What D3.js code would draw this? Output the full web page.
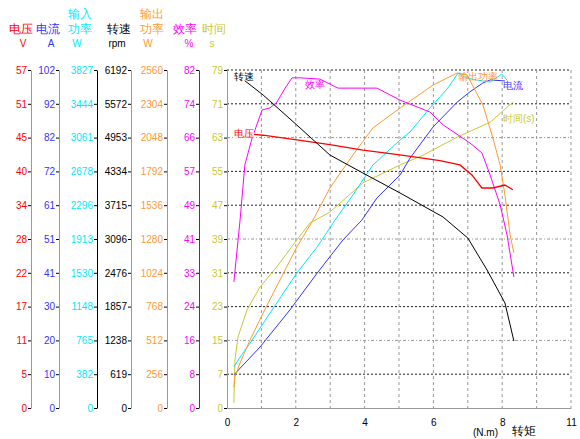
<!DOCTYPE html>
<html>
<head>
<meta charset="utf-8">
<script src="https://cdn.jsdelivr.net/npm/d3@7"></script>
<style>
  body { margin: 0; background: #fff; }
  text { font-family: "Liberation Sans", Arial, sans-serif; }
</style>
</head>
<body>
<svg id="chart" width="580" height="439"></svg>
<script>
// tick labels of the seven left axes (bottom to top)
const voltTicks   = ["0","5","11","17","22","28","34","40","45","51","57"];
const ampTicks    = ["0","10","20","30","41","51","61","72","82","92","102"];
const pinTicks    = ["0","382","765","1148","1530","1913","2296","2678","3061","3444","3827"];
const rpmTicks    = ["0","619","1238","1857","2476","3096","3715","4334","4953","5572","6192"];
const poutTicks   = ["0","256","512","768","1024","1280","1536","1792","2048","2304","2560"];
const effTicks    = ["0","8","16","24","33","41","49","57","66","74","82"];
const timeTicks   = ["0","7","15","23","31","39","47","55","63","71","79"];

const xTickValues = [0, 2, 4, 6, 8, 10];
const xTickLabels = ["0", "2", "4", "6", "8", "11"];

// curves: [torque (N.m), value]
const speedData = [[0.23,6137],[1.05,5734],[2.03,5184],[2.99,4635],[3.95,4305],[5.03,3939],
                   [6.28,3499],[7.0,3114],[7.56,2528],[8.08,1924],[8.34,1227]];
const voltData  = [[0.26,46.4],[1.05,46.0],[2.03,45.2],[2.99,44.4],[3.95,43.5],[5.03,42.7],
                   [6.19,41.7],[6.77,41.0],[7.12,39.3],[7.41,37.1],[7.73,37.1],[8.08,37.6],[8.31,36.8]];
const effData   = [[0.20,30.6],[0.38,45.6],[0.52,59.0],[0.73,65.5],[1.02,72.3],[1.25,72.8],
                   [1.45,74.2],[1.69,77.6],[1.89,80.1],[2.12,80.1],[2.70,79.8],[3.23,77.6],
                   [4.36,77.6],[5.03,74.7],[5.90,71.8],[6.28,68.7],[7.06,64.3],[7.41,61.9],
                   [7.65,56.5],[7.94,49.3],[8.14,42.0],[8.34,31.8]];
const poutData  = [[0.20,159],[0.23,235],[0.38,341],[0.67,515],[1.05,720],[1.54,969],[2.03,1219],
                   [2.50,1424],[2.99,1666],[3.66,1916],[4.24,2121],[5.03,2272],[5.99,2446],
                   [6.69,2537],[6.98,2522],[7.44,2295],[7.73,2045],[7.94,1840],[8.08,1613],
                   [8.23,1310],[8.34,1174]];
const pinData   = [[0.20,464],[0.38,577],[0.67,735],[1.25,1075],[2.03,1528],[2.62,1823],
                   [3.14,2128],[3.66,2412],[4.24,2751],[5.03,3034],[5.32,3125],[5.90,3397],
                   [6.42,3623],[6.72,3793],[6.98,3736],[7.27,3713],[7.65,3691],[7.99,3781],[8.14,3713]];
const ampData   = [[0.20,10.0],[0.96,18.4],[1.83,29.6],[2.62,40.7],[3.37,50.7],[3.92,56.7],
                   [4.36,63.4],[5.03,70.3],[5.32,75.4],[5.99,84.8],[6.69,92.3],[7.06,95.4],
                   [7.44,98.1],[7.65,99.0],[8.08,98.7]];
const timeData  = [[0.20,1.2],[0.21,4.9],[0.23,11.2],[0.32,16.6],[0.58,22.9],[0.96,28.3],
                   [1.45,33.0],[2.03,39.3],[2.41,43.2],[2.99,45.8],[3.95,52.6],[5.03,56.8],
                   [5.70,59.1],[6.69,63.3],[7.65,66.8],[8.31,71.5]];

const svg = d3.select("#chart");
const plotTop = 70, plotBottom = 408;

const x = d3.scaleLinear().domain([0, 10]).range([227, 571]);

const axes = [
  { ticks: voltTicks, color: "#ff0000", title: ["电压"],        unit: "V",   pos: 31,  tx: 21,  ux: 23,  line: "#999" },
  { ticks: ampTicks,  color: "#3333ff", title: ["电流"],        unit: "A",   pos: 59,  tx: 48,  ux: 51,  line: "#999" },
  { ticks: pinTicks,  color: "#00e8ff", title: ["输入", "功率"], unit: "W",   pos: 97,  tx: 80,  ux: 77,  line: "#000" },
  { ticks: rpmTicks,  color: "#000000", title: ["转速"],        unit: "rpm", pos: 131, tx: 119, ux: 117, line: "#999" },
  { ticks: poutTicks, color: "#ff9933", title: ["输出", "功率"], unit: "W",   pos: 167, tx: 152, ux: 148, line: "#999" },
  { ticks: effTicks,  color: "#ff00ff", title: ["效率"],        unit: "%",   pos: 199, tx: 185, ux: 189, line: "#444" },
  { ticks: timeTicks, color: "#c8c832", title: ["时间"],        unit: "s",   pos: 227, tx: 214, ux: 212, line: "#999" }
];

axes.forEach(a => {
  const max = +a.ticks[a.ticks.length - 1];
  a.scale = d3.scaleLinear().domain([0, max]).range([plotBottom, plotTop]);
  a.values = d3.range(a.ticks.length).map(i => max * i / (a.ticks.length - 1));
});

// grid
const grid = svg.append("g");
const timeAxis = axes[6];
timeAxis.values.slice(1).forEach((v, i) => {
  const k = i + 1;
  const light = k % 3 === 2;
  grid.append("line")
    .attr("x1", x(0)).attr("x2", x(10))
    .attr("y1", timeAxis.scale(v)).attr("y2", timeAxis.scale(v))
    .attr("stroke", light ? "#999" : "#222")
    .attr("stroke-dasharray", light ? "3,2,1,2" : "2,2");
});
d3.range(1, 11).forEach(t => {
  grid.append("line")
    .attr("x1", x(t)).attr("x2", x(t))
    .attr("y1", plotTop).attr("y2", plotBottom)
    .attr("stroke", "#999")
    .attr("stroke-dasharray", "3,3");
});

// x axis
const xAxis = svg.append("g")
  .attr("transform", "translate(0," + plotBottom + ")")
  .call(d3.axisBottom(x).tickValues(xTickValues)
    .tickFormat((d, i) => xTickLabels[i]).tickSize(0).tickPadding(11));
xAxis.select(".domain").attr("stroke", "#999");
xAxis.selectAll("text").attr("font-size", 10).attr("fill", "#000");

svg.append("text").attr("x", 473).attr("y", 436)
  .attr("font-size", 10).attr("font-family", "Liberation Mono, monospace").text("(N.m)");
svg.append("text").attr("x", 512).attr("y", 435)
  .attr("font-size", 12).attr("font-family", "Noto Sans CJK SC").text("转矩");

// left axes
axes.forEach(a => {
  const g = svg.append("g")
    .attr("transform", "translate(" + a.pos + ",0)")
    .call(d3.axisLeft(a.scale).tickValues(a.values)
      .tickFormat((d, i) => a.ticks[i]).tickSize(3).tickPadding(1).tickSizeOuter(0));
  g.select(".domain").attr("stroke", a.line);
  g.selectAll(".tick line").attr("stroke", "#000");
  g.selectAll("text").attr("fill", a.color).attr("font-size", 10);

  const lines = a.title.length === 1 ? [28] : [13, 28];
  a.title.forEach((t, i) => {
    svg.append("text")
      .attr("x", a.tx).attr("y", lines[i] + 5)
      .attr("text-anchor", "middle")
      .attr("font-size", 12).attr("font-family", "Noto Sans CJK SC")
      .attr("fill", a.color).text(t);
  });
  svg.append("text")
    .attr("x", a.ux).attr("y", 47)
    .attr("text-anchor", "middle")
    .attr("font-size", 10).attr("font-family", "Liberation Mono, monospace")
    .attr("fill", a.color).text(a.unit);
});

// curves
const series = [
  { data: timeData,  axis: 6, label: "时间(s)",  at: [8.02, 67.8] },
  { data: ampData,   axis: 1, label: "电流",     at: [8.02, 97.5] },
  { data: pinData,   axis: 2, label: null },
  { data: poutData,  axis: 4, label: "输出功率", at: [6.72, 2514] },
  { data: effData,   axis: 5, label: "效率",     at: [2.27, 78.6] },
  { data: voltData,  axis: 0, label: "电压",     at: [0.2, 46.4], bg: true },
  { data: speedData, axis: 3, label: "转速",     at: [0.2, 6082], bg: true }
];

series.forEach(s => {
  const a = axes[s.axis];
  const line = d3.line().x(d => x(d[0])).y(d => a.scale(d[1]));
  svg.append("path")
    .datum(s.data)
    .attr("d", line)
    .attr("fill", "none")
    .attr("stroke", a.color)
    .attr("stroke-width", s.axis === 0 ? 1.3 : 1);
});

series.filter(s => s.label).forEach(s => {
  const a = axes[s.axis];
  const t = svg.append("text")
    .attr("x", x(s.at[0])).attr("y", a.scale(s.at[1]) + 4)
    .attr("font-size", 10).attr("font-family", "Noto Sans CJK SC")
    .attr("fill", a.color).text(s.label);
  if (s.bg) {
    const b = t.node().getBBox();
    svg.insert("rect", () => t.node())
      .attr("x", b.x).attr("y", b.y + 1).attr("width", b.width).attr("height", b.height - 2)
      .attr("fill", "#fff");
  }
});
</script>
</body>
</html>
